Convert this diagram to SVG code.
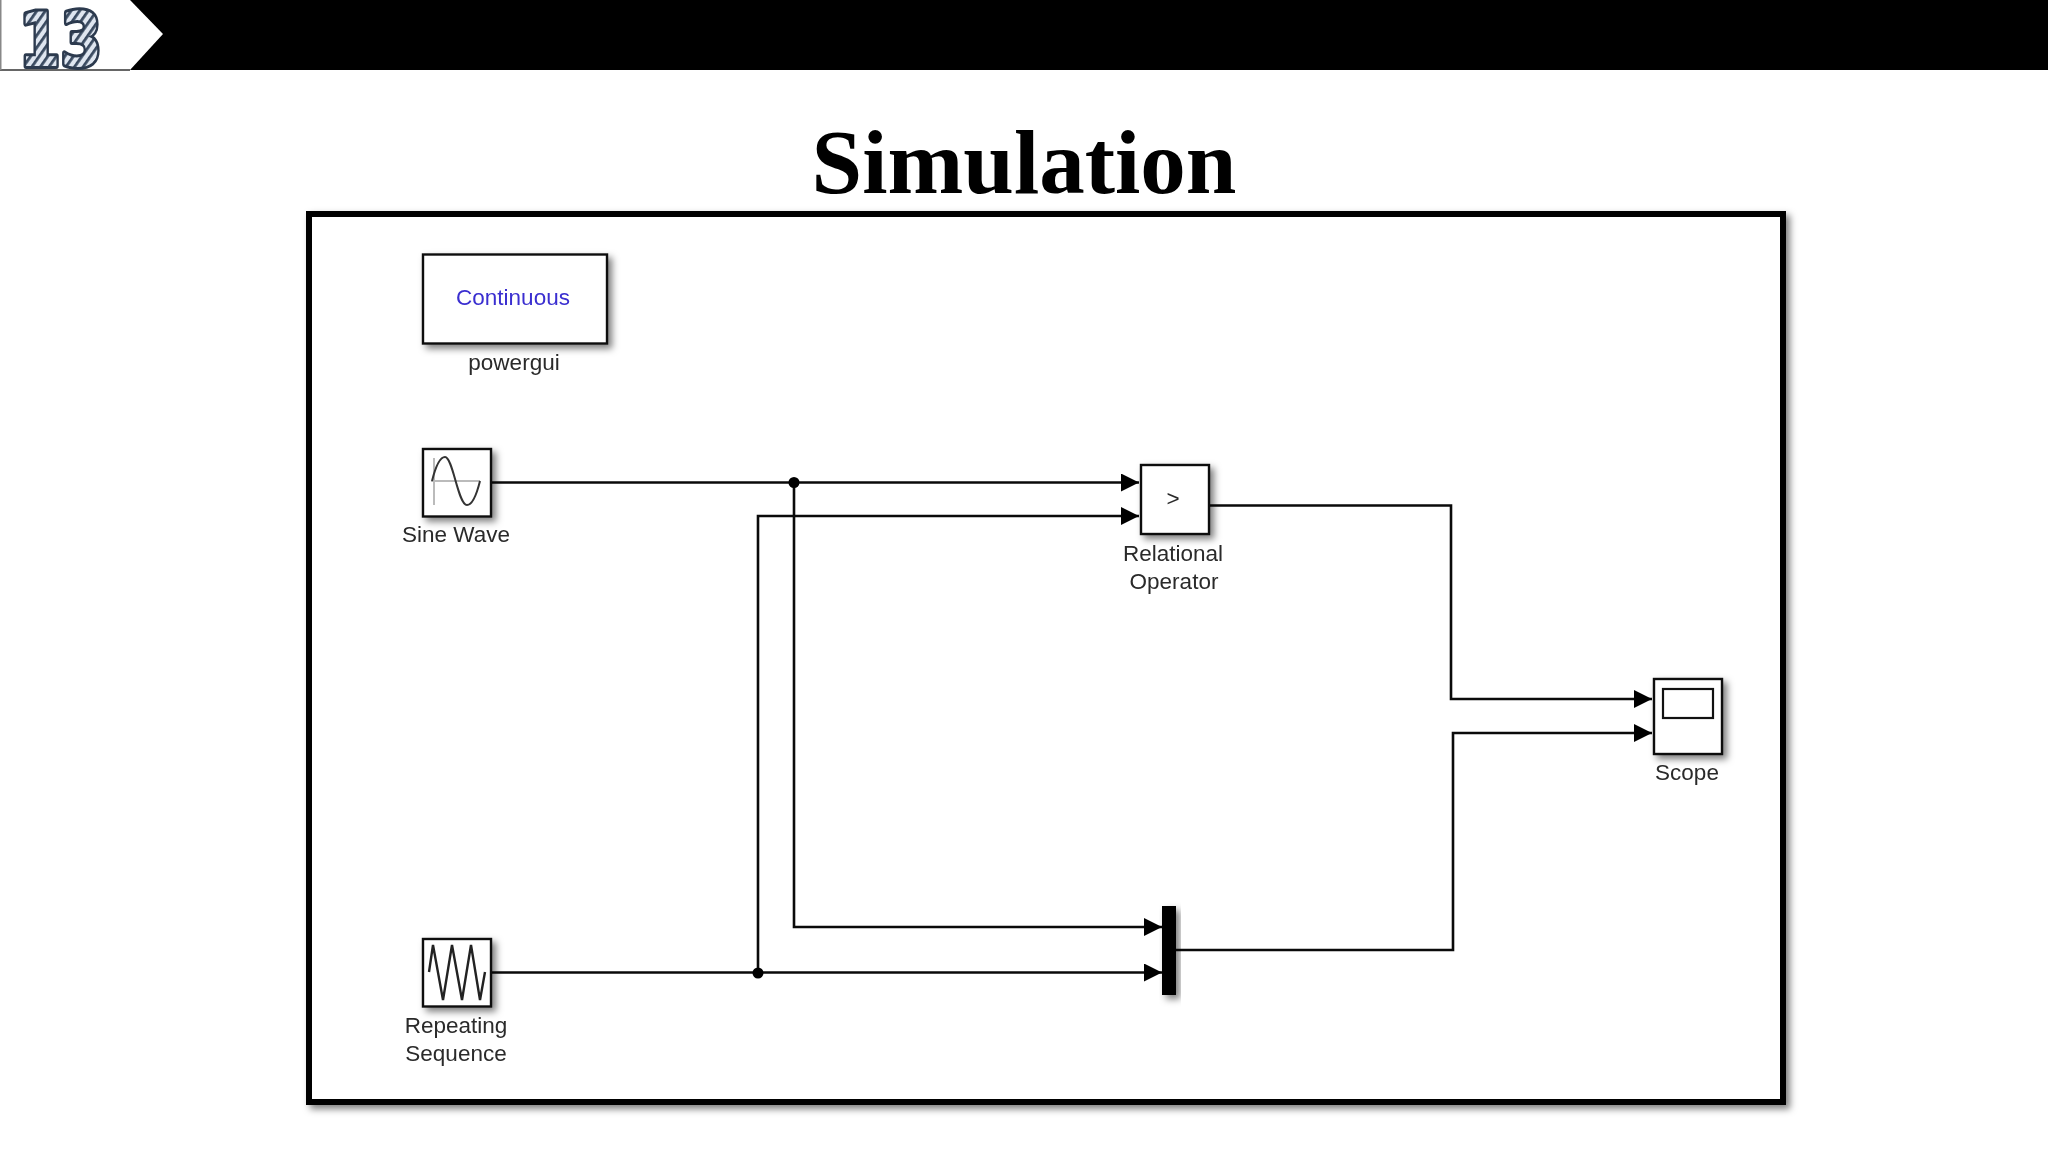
<svg xmlns="http://www.w3.org/2000/svg" width="2048" height="1152" viewBox="0 0 2048 1152">
<style>
.block{fill:#fff;stroke:#111;stroke-width:2.4}
.lbl{font-family:"Liberation Sans",Arial,sans-serif;font-size:22.5px;fill:#2a2a2a;text-anchor:middle}
.wire{fill:none;stroke:#0a0a0a;stroke-width:2.6}
.dot{fill:#000}
.badge{font-family:"DejaVu Sans",sans-serif;font-weight:bold;font-size:74px;fill:url(#hatch);stroke:#2c3a4e;stroke-width:6;stroke-linejoin:round;paint-order:stroke}
</style>
<defs>
<filter id="sh" x="-20%" y="-20%" width="150%" height="150%"><feDropShadow dx="4" dy="4" stdDeviation="3.5" flood-color="#000" flood-opacity="0.5"/></filter>
<filter id="soft" x="-5%" y="-20%" width="110%" height="140%"><feGaussianBlur stdDeviation="0.5"/></filter>
<marker id="arr" markerUnits="userSpaceOnUse" markerWidth="18" markerHeight="18" refX="18" refY="9" orient="auto"><path d="M0,0 L18,9 L0,18 Z" fill="#000"/></marker>
<pattern id="hatch" width="7" height="7" patternUnits="userSpaceOnUse" patternTransform="rotate(-55)"><rect width="7" height="7" fill="#dfe6f0"/><rect width="7" height="2.8" fill="#3a4a60"/></pattern>
</defs>
<rect width="2048" height="1152" fill="#fff"/>
<g id="header">
<rect x="0" y="0" width="2048" height="70" fill="#000"/>
<path d="M0,0 H130 L163,34 L130,70 H0 Z" fill="#fff"/>
<rect x="0" y="69" width="130" height="2" fill="#666"/>
<rect x="0" y="0" width="1.500" height="70" fill="#888"/>
<text class="badge" x="19" y="66" textLength="83" lengthAdjust="spacingAndGlyphs">13</text>
</g>
<text id="title" x="1024" y="193" font-family="Liberation Serif,Times New Roman,serif" font-weight="bold" font-size="91" text-anchor="middle" fill="#000">Simulation</text>
<rect id="frame" x="309" y="214" width="1474" height="888" fill="#fff" stroke="#000" stroke-width="6" filter="url(#sh)"/>
<g id="connectors">
<path class="wire" d="M492,482.5 H1139" marker-end="url(#arr)"/>
<path class="wire" d="M794,482.5 V927 H1162" marker-end="url(#arr)"/>
<path class="wire" d="M492,972.5 H1162" marker-end="url(#arr)"/>
<path class="wire" d="M758,972.5 V516 H1139" marker-end="url(#arr)"/>
<path class="wire" d="M1210,505.5 H1451 V699 H1652" marker-end="url(#arr)"/>
<path class="wire" d="M1176,950 H1453 V733 H1652" marker-end="url(#arr)"/>
<circle class="dot" cx="794" cy="482.5" r="5.5"/>
<circle class="dot" cx="758" cy="973" r="5.5"/>
</g>
<g id="powergui">
<rect class="block" x="423" y="254.500" width="184" height="89" filter="url(#sh)"/>
<text class="lbl" x="513" y="305" style="fill:#3a2fd0" filter="url(#soft)">Continuous</text>
<text class="lbl" x="514" y="370" filter="url(#soft)">powergui</text>
</g>
<g id="sine-wave">
<rect class="block" x="423" y="449" width="68" height="67.500" filter="url(#sh)"/>
<path d="M434,458 V505 M431,481 H480" fill="none" stroke="#bbb" stroke-width="2"/>
<path d="M432,481 C436,465 440,457 445,457 C453,457 458,505 467,505 C473,505 477,493 480,481" fill="none" stroke="#333" stroke-width="2"/>
<text class="lbl" x="456" y="542" filter="url(#soft)">Sine Wave</text>
</g>
<g id="repeating-sequence">
<rect class="block" x="423" y="939" width="68" height="67.500" filter="url(#sh)"/>
<path d="M429,972 L433,945 L443,1000 L452,945 L462,1000 L471,945 L480,1000 L485,972" fill="none" stroke="#222" stroke-width="2.4"/>
<text class="lbl" x="456" y="1033" filter="url(#soft)">Repeating</text>
<text class="lbl" x="456" y="1061" filter="url(#soft)">Sequence</text>
</g>
<g id="relational-operator">
<rect class="block" x="1141" y="465" width="68" height="69" filter="url(#sh)"/>
<text class="lbl" x="1173" y="506" filter="url(#soft)">&gt;</text>
<text class="lbl" x="1173" y="561" filter="url(#soft)">Relational</text>
<text class="lbl" x="1174" y="589" filter="url(#soft)">Operator</text>
</g>
<g id="scope">
<rect class="block" x="1654" y="679" width="68" height="75" filter="url(#sh)"/>
<rect x="1663" y="689" width="50" height="29" fill="#fff" stroke="#111" stroke-width="2.2"/>
<text class="lbl" x="1687" y="780" filter="url(#soft)">Scope</text>
</g>
<g id="mux">
<rect x="1162" y="906" width="14" height="89" fill="#000" filter="url(#sh)"/>
</g>
</svg>
